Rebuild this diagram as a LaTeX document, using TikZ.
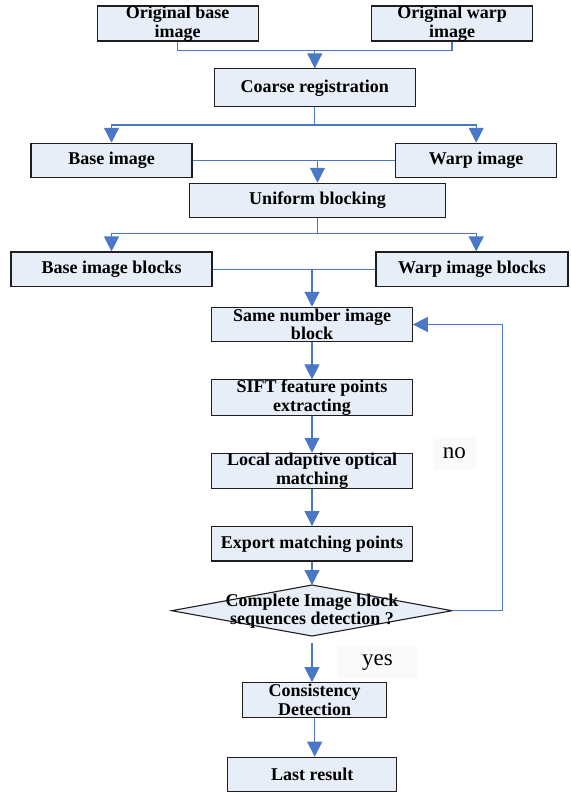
\documentclass[tikz,border=0pt]{standalone}
\usepackage{fontspec}
\setmainfont{Liberation Serif}
\usetikzlibrary{arrows.meta}
\definecolor{boxfill}{HTML}{E8EEF7}
\definecolor{boxline}{HTML}{1E1E1E}
\definecolor{flow}{HTML}{4A78C6}
\definecolor{tagfill}{HTML}{FAFAFA}
\tikzset{
  stepbox/.style={draw=boxline, fill=boxfill, line width=1.1pt, inner sep=0pt,
    align=center, font=\bfseries\fontsize{18}{18.5}\selectfont},
  wire/.style={draw=flow, line width=1.2pt},
  arr/.style={wire, -{Triangle[width=15pt,length=15pt]}},
  tag/.style={fill=tagfill, inner sep=0pt, font=\fontsize{23}{24}\selectfont}
}
\begin{document}
\begin{tikzpicture}[x=1pt,y=-1pt]
\useasboundingbox (0,0) rectangle (570,792);

% process boxes
\node[stepbox, minimum width=161, minimum height=35] (ob) at (177.7,23.5) {Original base\\image};
\node[stepbox, minimum width=161, minimum height=35] (ow) at (452,23.5) {Original warp\\image};
\node[stepbox, minimum width=201, minimum height=37.7] (coarse) at (314.8,87.8) {Coarse registration};
\node[stepbox, minimum width=161, minimum height=34] (bi) at (111.5,160.3) {Base image};
\node[stepbox, minimum width=161, minimum height=34] (wi) at (476.2,160.3) {Warp image};
\node[stepbox, minimum width=256.4, minimum height=34] (uni) at (317.5,200.3) {Uniform blocking};
\node[stepbox, minimum width=201, minimum height=34.7] (bb) at (111.5,269.3) {Base image blocks};
\node[stepbox, minimum width=192, minimum height=34.7] (wb) at (472,269.3) {Warp image blocks};
\node[stepbox, minimum width=200.6, minimum height=34.4] (same) at (312,324.5) {Same number image\\block};
\node[stepbox, minimum width=200.6, minimum height=35] (sift) at (312,397.5) {SIFT feature points\\extracting};
\node[stepbox, minimum width=200.6, minimum height=35] (local) at (312,470.8) {Local adaptive optical\\matching};
\node[stepbox, minimum width=200.6, minimum height=34.3] (exp) at (312,543.8) {Export matching points};
\node[stepbox, minimum width=144, minimum height=34.6] (cons) at (314.7,700) {Consistency\\Detection};
\node[stepbox, minimum width=169, minimum height=34.7] (last) at (312.2,774.6) {Last result};

% decision diamond
\coordinate (dt) at (312,585);
\coordinate (dr) at (452,610.7);
\coordinate (db) at (312,636);
\coordinate (dl) at (171.7,610.7);
\filldraw[draw=boxline, fill=boxfill, line width=1.1pt] (dt) -- (dr) -- (db) -- (dl) -- cycle;
\node[align=center, inner sep=0pt, font=\bfseries\fontsize{18}{18.5}\selectfont] (dtext) at (312,611)
  {Complete Image block\\sequences detection ?};

% branch labels
\node[tag, minimum width=81.6, minimum height=33.3] (yes) at (377.5,662.7) {yes};
\node[tag, minimum width=43.3, minimum height=33.3] (no) at (454.3,453.3) {no};

% junction points
\coordinate (j1) at (314.8,50.3);
\coordinate (j2) at (314.8,125);
\coordinate (j3) at (317.5,160.3);
\coordinate (j4) at (317.5,233.3);
\coordinate (j5) at (312,269.3);
\coordinate (loopx) at (502.7,610.7);
\coordinate (ys) at (312,643.3);

% connectors
\draw[wire] (ob.south) |- (j1);
\draw[wire] (ow.south) |- (j1);
\draw[arr] (j1) -- (coarse.north);
\draw[wire] (coarse.south) -- (j2);
\draw[arr] (j2) -| (bi.north);
\draw[arr] (j2) -| (wi.north);
\draw[wire] (bi.east) -- (wi.west);
\draw[arr] (j3) -- (uni.north);
\draw[wire] (uni.south) -- (j4);
\draw[arr] (j4) -| (bb.north);
\draw[arr] (j4) -| (wb.north -| wi.south);
\draw[wire] (bb.east) -- (wb.west);
\draw[arr] (j5) -- (same.north);
\draw[arr] (same.south) -- (sift.north);
\draw[arr] (sift.south) -- (local.north);
\draw[arr] (local.south) -- (exp.north);
\draw[arr] (exp.south) -- (dt);
\draw[arr] (dr) -- (loopx) |- (same.east);
\draw[arr] (ys) -- (ys |- cons.north);
\draw[arr] (cons.south |- last.north) ++(0,-39) -- (cons.south |- last.north);
\end{tikzpicture}
\end{document}
